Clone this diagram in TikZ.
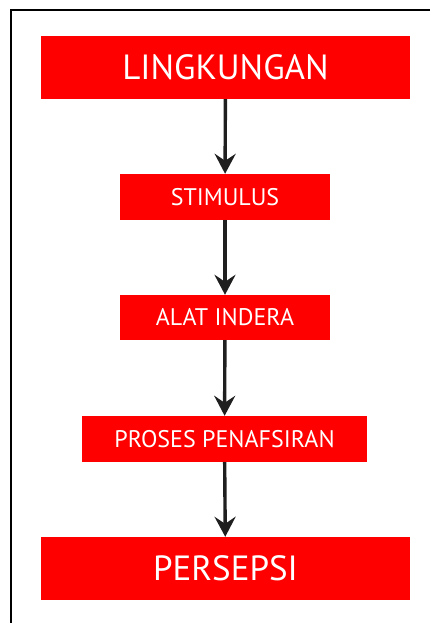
\documentclass[tikz,border=0pt]{standalone}
\usepackage{fontspec}
\setmainfont{PT Sans}
\usetikzlibrary{arrows.meta}
\begin{document}
\begin{tikzpicture}[x=1pt,y=-1pt,
  box/.style={fill=red, draw=none, text=white, inner sep=0pt, align=center},
  conn/.style={draw=black!88, line width=3.4pt, -{Stealth[length=20pt,width=21pt,inset=7pt]}}]
\useasboundingbox (0,0) rectangle (430,623);
\draw[line width=2pt] (11,623) -- (11,10) -- (430,10);
\node[box, minimum width=369pt, minimum height=63pt, font=\fontsize{35}{40}\selectfont] (l) at (225.5,67.5) {LINGKUNGAN};
\node[box, minimum width=210pt, minimum height=46pt, font=\fontsize{24}{28}\selectfont] (s) at (225,197) {STIMULUS};
\node[box, minimum width=210pt, minimum height=45pt, font=\fontsize{24}{28}\selectfont] (a) at (225,317.5) {ALAT INDERA};
\node[box, minimum width=285pt, minimum height=46pt, font=\fontsize{24}{28}\selectfont] (p) at (224.5,439) {PROSES PENAFSIRAN};
\node[box, minimum width=369pt, minimum height=63pt, font=\fontsize{35}{40}\selectfont] (e) at (225.5,568.5) {PERSEPSI};
\draw[conn] (l) -- (s);
\draw[conn] (s) -- (a);
\draw[conn] (a) -- (p);
\draw[conn] (p) -- (e);
\end{tikzpicture}
\end{document}
